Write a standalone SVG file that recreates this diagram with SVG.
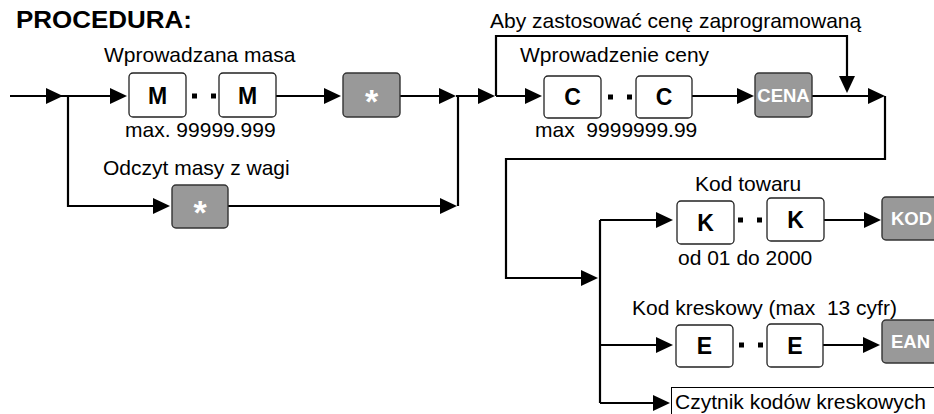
<svg xmlns="http://www.w3.org/2000/svg" width="934" height="414" viewBox="0 0 934 414">
<defs>
<style>
text{font-family:"Liberation Sans",Arial,sans-serif;fill:#000;white-space:pre}
.lbl{font-size:21px}
.title{font-size:23px;font-weight:bold}
.key{fill:#fff;stroke:#222;stroke-width:1.3}
.fn{fill:#999;stroke:#333;stroke-width:1.4}
.kl{font-size:23px;font-weight:bold;text-anchor:middle}
.fl{font-size:18.5px;font-weight:bold;fill:#fff}
.star{font-size:34px;font-weight:bold;fill:#fff;text-anchor:middle}
.ln{fill:none;stroke:#000;stroke-width:2.2;marker-end:url(#ah)}
.pl{fill:none;stroke:#000;stroke-width:2.2}
.dots{fill:none;stroke:#000;stroke-width:5;stroke-dasharray:5 14}
</style>
<marker id="ah" markerUnits="userSpaceOnUse" markerWidth="18" markerHeight="16" refX="14" refY="8" orient="auto">
<path d="M0,0 L17,8 L0,16 z" fill="#000"/>
</marker>
</defs>
<rect width="934" height="414" fill="#fff"/>
<text class="title" x="16" y="28" textLength="176" lengthAdjust="spacingAndGlyphs">PROCEDURA:</text>

<g id="connectors">
<path class="ln" d="M10,96 H60"/>
<path class="ln" d="M58,96 H124"/>
<path class="ln" d="M68,96 V206 H167"/>
<path class="dots" d="M192,96 H216"/>
<path class="ln" d="M276,96 H338"/>
<path class="ln" d="M400,96 H453"/>
<path class="ln" d="M228,206 H454"/>
<path class="pl" d="M458,206 V96"/>
<path class="ln" d="M456,96 H492"/>
<path class="ln" d="M496,96 V36 H847 V90"/>
<path class="ln" d="M496,96 H539"/>
<path class="dots" d="M608,97 H632"/>
<path class="ln" d="M692,96 H751"/>
<path class="ln" d="M812,96 H882"/>
<path class="ln" d="M885,96 V159 H506 V278 H595"/>
<path class="pl" d="M600,220 V403"/>
<path class="ln" d="M600,220 H670"/>
<path class="dots" d="M738,220 H762"/>
<path class="ln" d="M824,220 H878"/>
<path class="ln" d="M600,345 H670"/>
<path class="dots" d="M739,345 H763"/>
<path class="ln" d="M823,345 H877"/>
<path class="ln" d="M600,403 H667"/>
</g>

<g id="lbl-mass">
<text class="lbl" x="104" y="62">Wprowadzana masa</text>
<text class="lbl" x="125" y="137">max. 99999.999</text>
</g>
<g id="m1"><rect class="key" x="129" y="73" width="57" height="44" rx="4"/><text class="kl" x="157.5" y="104">M</text></g>
<g id="m2"><rect class="key" x="219" y="73" width="57" height="44" rx="4"/><text class="kl" x="247.5" y="104">M</text></g>
<g id="star1"><rect class="fn" x="343" y="73" width="57" height="44" rx="4"/><text class="star" x="371.5" y="113">*</text></g>
<g id="lbl-scale"><text class="lbl" x="103" y="175">Odczyt masy z wagi</text></g>
<g id="star2"><rect class="fn" x="172" y="185" width="56" height="43" rx="4"/><text class="star" x="200" y="224">*</text></g>
<g id="lbl-prog"><text class="lbl" x="490" y="28">Aby zastosować cenę zaprogramowaną</text></g>
<g id="lbl-price">
<text class="lbl" x="520" y="62">Wprowadzenie ceny</text>
<text class="lbl" x="535" y="137">max  9999999.99</text>
</g>
<g id="c1"><rect class="key" x="544" y="76" width="57" height="42" rx="4"/><text class="kl" x="572.5" y="105">C</text></g>
<g id="c2"><rect class="key" x="636" y="76" width="56" height="42" rx="4"/><text class="kl" x="664" y="105">C</text></g>
<g id="cena"><rect class="fn" x="755" y="73" width="57" height="44" rx="4"/><text class="fl" x="783.5" y="102" text-anchor="middle">CENA</text></g>
<g id="lbl-kod">
<text class="lbl" x="695" y="191">Kod towaru</text>
<text class="lbl" x="678" y="265">od 01 do 2000</text>
</g>
<g id="k1"><rect class="key" x="677" y="201" width="57" height="43" rx="4"/><text class="kl" x="705.5" y="231">K</text></g>
<g id="k2"><rect class="key" x="767" y="198" width="57" height="43" rx="4"/><text class="kl" x="795.5" y="228">K</text></g>
<g id="kod"><rect class="fn" x="882" y="197" width="60" height="43" rx="4"/><text class="fl" x="891" y="225">KOD</text></g>
<g id="lbl-ean"><text class="lbl" x="632" y="315">Kod kreskowy (max  13 cyfr)</text></g>
<g id="e1"><rect class="key" x="676" y="325" width="57" height="42" rx="4"/><text class="kl" x="704.5" y="354">E</text></g>
<g id="e2"><rect class="key" x="767" y="324" width="56" height="43" rx="4"/><text class="kl" x="795" y="354">E</text></g>
<g id="ean"><rect class="fn" x="882" y="320" width="60" height="43" rx="4"/><text class="fl" x="891" y="348">EAN</text></g>
<g id="reader"><rect x="671.5" y="387.5" width="280" height="40" fill="#fff" stroke="#000" stroke-width="1"/><text class="lbl" x="675" y="409">Czytnik kodów kreskowych</text></g>
</svg>
